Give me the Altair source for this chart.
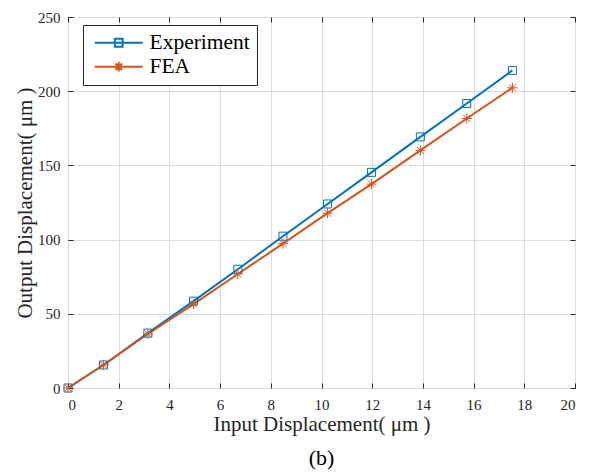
import altair as alt
import pandas as pd

# ---- data ----
x_vals = [0, 1.4, 3.15, 4.95, 6.7, 8.48, 10.24, 11.97, 13.9, 15.73, 17.53]
exp_vals = [0, 15.5, 37.0, 58.5, 80.0, 102.3, 124.0, 145.3, 169.2, 191.7, 214.0]
fea_vals = [0, 15.5, 36.4, 56.5, 76.8, 97.3, 117.8, 137.4, 160.1, 181.6, 202.3]
series_names = ["Experiment", "FEA"]
series_colors = ["#0072BD", "#D95319"]
x_ticks = [0, 2, 4, 6, 8, 10, 12, 14, 16, 18, 20]
y_ticks = [0, 50, 100, 150, 200, 250]

n = len(x_vals)
df = pd.DataFrame({
    "x": x_vals + x_vals,
    "y": exp_vals + fea_vals,
    "series": [series_names[0]] * n + [series_names[1]] * n,
})

FONT = "Liberation Serif"
INK = "#262626"

star = "M-1,0H1M0,-1V1M-0.7,-0.7L0.7,0.7M-0.7,0.7L0.7,-0.7"
leg_sq = "M-1,0H7M2.35,-0.65H3.65V0.65H2.35Z"
leg_star = "M-1,0H7M2.2,0H3.8M3,-0.8V0.8M2.45,-0.55L3.55,0.55M2.45,0.55L3.55,-0.55"

xs = alt.Scale(domain=[0, 20], nice=False, zero=False)
ys = alt.Scale(domain=[0, 250], nice=False, zero=False)
cs = alt.Scale(domain=series_names, range=series_colors)

x_main = alt.Axis(orient="bottom", values=x_ticks, offset=-5, tickSize=5, domain=False, grid=False,
                  tickColor=INK, labelFont=FONT, labelFontSize=15, labelColor=INK, labelPadding=9,
                  title="Input Displacement( μm )", titleFont=FONT, titleFontSize=21,
                  titleFontWeight="normal", titleColor=INK, titlePadding=1)
y_main = alt.Axis(orient="left", values=y_ticks, offset=-5, tickSize=5, domain=False, grid=False,
                  tickColor=INK, labelFont=FONT, labelFontSize=15, labelColor=INK, labelPadding=8,
                  title="Output Displacement( μm )", titleFont=FONT, titleFontSize=21,
                  titleFontWeight="normal", titleColor=INK, titlePadding=2)
x_top = alt.Axis(orient="top", values=x_ticks, offset=-5, tickSize=5, domain=False, grid=False,
                 tickColor=INK, labels=False, title=None)
y_right = alt.Axis(orient="right", values=y_ticks, offset=-5, tickSize=5, domain=False, grid=False,
                   tickColor=INK, labels=False, title=None)
x_grid = alt.Axis(orient="bottom", values=x_ticks, grid=True, gridColor="#dcdcdc", gridWidth=1,
                  ticks=False, labels=False, domain=False, title=None)
y_grid = alt.Axis(orient="left", values=y_ticks, grid=True, gridColor="#dcdcdc", gridWidth=1,
                  ticks=False, labels=False, domain=False, title=None)

leg = alt.Legend(title=None, orient="none", legendX=15, legendY=8, fillColor="white", strokeColor=INK,
                 padding=7, labelFont=FONT, labelFontSize=21.5, labelColor="black", symbolSize=144,
                 symbolStrokeWidth=2, symbolOpacity=1, rowPadding=1, labelOffset=38,
                 symbolFillColor="transparent")

base = alt.Chart(df)

legend_layer = base.mark_point(opacity=0, filled=False).encode(
    x=alt.X("x:Q", scale=xs, axis=x_grid),
    y=alt.Y("y:Q", scale=ys, axis=y_grid),
    color=alt.Color("series:N", scale=cs, legend=leg),
    shape=alt.Shape("series:N", scale=alt.Scale(domain=series_names, range=[leg_sq, leg_star]),
                    legend=leg),
)

lines = base.mark_line(strokeWidth=2).encode(
    x=alt.X("x:Q", scale=xs, axis=x_main),
    y=alt.Y("y:Q", scale=ys, axis=y_main),
    color=alt.Color("series:N", scale=cs),
)

pts_exp = base.transform_filter(alt.datum.series == series_names[0]).mark_point(
    shape="square", size=64, filled=False, strokeWidth=1, opacity=1
).encode(
    x=alt.X("x:Q", scale=xs, axis=x_top),
    y=alt.Y("y:Q", scale=ys, axis=y_right),
    color=alt.Color("series:N", scale=cs),
)

pts_fea = base.transform_filter(alt.datum.series == series_names[1]).mark_point(
    shape=star, size=100, filled=False, strokeWidth=1, opacity=1
).encode(
    x=alt.X("x:Q", scale=xs, axis=None),
    y=alt.Y("y:Q", scale=ys, axis=None),
    color=alt.Color("series:N", scale=cs),
)

chart = alt.layer(legend_layer, lines, pts_exp, pts_fea).resolve_axis(
    x="independent", y="independent"
).properties(
    width=507, height=371,
    autosize="none",
    padding={"left": 60, "top": 9, "right": 8, "bottom": 88},
    title=alt.Title("(b)", orient="bottom", font=FONT, fontSize=22, fontWeight="normal",
                    color="black", offset=14),
).configure_view(stroke=INK, strokeWidth=1)

chart.save("out.html", embed_options={"renderer": "svg", "actions": False})
